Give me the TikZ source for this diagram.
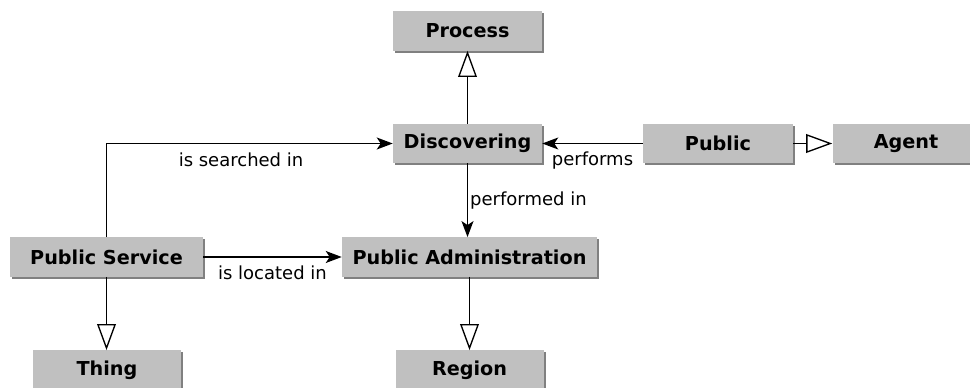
\documentclass[tikz,border=0pt]{standalone}
\usepackage{fontspec}
\setmainfont{DejaVu Sans}
\usetikzlibrary{arrows.meta,shadows}
\definecolor{boxgray}{HTML}{C0C0C0}
\definecolor{shadowgray}{HTML}{808080}
\begin{document}
\begin{tikzpicture}[x=0.75pt,y=-0.75pt,
  cls/.style={fill=boxgray, minimum height=29.5pt, inner sep=0pt,
    font=\bfseries\fontsize{14.4}{16}\selectfont,
    general shadow={shadow xshift=1.5pt, shadow yshift=-1.5pt, fill=shadowgray}},
  lbl/.style={font=\fontsize{13.5}{15}\selectfont, inner sep=1.5pt},
  conn/.style={line width=1pt},
  assoc/.style={conn, -{Stealth[length=12pt,width=9pt,inset=3pt]}},
  isa/.style={conn, -{Triangle[open,length=19.5pt,width=14pt,fill=white]}}]
\useasboundingbox (0,0) rectangle (970,388);
\node[cls, minimum width=111.75pt] (process) at (467.5,31) {Process};
\node[cls, minimum width=111.75pt] (disc) at (467.5,143.5) {Discovering};
\node[cls, minimum width=112.5pt] (public) at (718,143.5) {Public};
\node[cls, minimum width=110.25pt] (agent) at (906,143.5) {Agent};
\node[cls, minimum width=144.75pt] (ps) at (106.5,257) {Public Service};
\node[cls, minimum width=191.25pt] (pa) at (469.5,257) {Public Administration};
\node[cls, minimum width=111pt] (thing) at (107,370) {Thing};
\node[cls, minimum width=111pt] (region) at (469.5,370) {Region};
\draw[isa] (disc) -- (process);
\draw[assoc] (public) -- node[lbl, below=4.5pt] {performs} (disc);
\draw[isa] (public) -- (agent);
\draw[assoc] (disc.south) -- node[lbl, right] {performed in} (disc.south |- pa.north);
\draw[assoc] (ps.north) |- node[lbl, below=5pt, pos=0.735] {is searched in} (disc.west);
\draw[assoc] (ps) -- node[lbl, below=4.5pt] {is located in} (pa);
\draw[isa] (ps.south) -- (ps.south |- thing.north);
\draw[isa] (region.north |- pa.south) -- (region.north);
\end{tikzpicture}
\end{document}
